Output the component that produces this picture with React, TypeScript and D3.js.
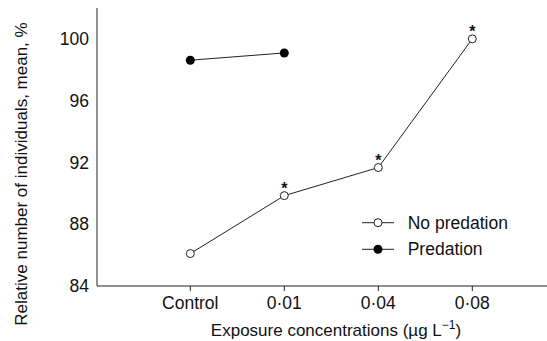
import * as d3 from "d3";

const categories = ["Control", "0·01", "0·04", "0·08"];
const noPredation = [86.1, 89.85, 91.67, 100];
const predation = [98.62, 99.09];
const significant = [false, true, true, true];
const yTicks = [84, 88, 92, 96, 100];

const width = 547;
const height = 341;
const margin = { top: 8, right: 0, bottom: 55, left: 97 };
const font = "Arial, 'Liberation Sans', sans-serif";

export default function App() {
  const x = d3
    .scalePoint<string>()
    .domain(categories)
    .range([190.3, 472.3]);
  const y = d3
    .scaleLinear()
    .domain([84, 102])
    .range([height - margin.bottom, margin.top]);

  const line = d3
    .line<number>()
    .x((_, i) => x(categories[i]) as number)
    .y((d) => y(d));

  const y0 = y(84);

  return (
    <svg
      width={width}
      height={height}
      style={{ position: "absolute", left: 0, top: 0, background: "#fff" }}
      fontFamily={font}
    >
      {/* axes */}
      <line x1={margin.left} x2={margin.left} y1={margin.top} y2={y0} stroke="#222" strokeWidth={1} />
      <line x1={margin.left} x2={width} y1={y0} y2={y0} stroke="#222" strokeWidth={1} />

      {yTicks.map((t) => (
        <text key={t} x={89} y={y(t)} dy="0.35em" textAnchor="end" fontSize={17.5} fill="#111">
          {t}
        </text>
      ))}

      {categories.map((c) => (
        <g key={c}>
          <line x1={x(c)} x2={x(c)} y1={y0} y2={y0 + 5} stroke="#222" strokeWidth={1} />
          <text x={x(c)} y={309} textAnchor="middle" fontSize={17.5} fill="#111">
            {c}
          </text>
        </g>
      ))}

      <text x={336} y={336} textAnchor="middle" fontSize={17} fill="#111">
        Exposure concentrations (µg L
        <tspan dy={-7} fontSize={12}>−1</tspan>
        <tspan dy={7}>)</tspan>
      </text>

      <text
        transform={`translate(27,${174}) rotate(-90)`}
        textAnchor="middle"
        fontSize={17}
        fill="#111"
      >
        Relative number of individuals, mean, %
      </text>

      {/* series */}
      <path d={line(noPredation) ?? ""} fill="none" stroke="#222" strokeWidth={1} />
      <path d={line(predation) ?? ""} fill="none" stroke="#222" strokeWidth={1} />

      {predation.map((v, i) => (
        <circle key={"p" + i} cx={x(categories[i])} cy={y(v)} r={4.5} fill="#000" />
      ))}
      {noPredation.map((v, i) => (
        <circle
          key={"n" + i}
          cx={x(categories[i])}
          cy={y(v)}
          r={4}
          fill="#fff"
          stroke="#222"
          strokeWidth={1}
        />
      ))}

      {noPredation.map((v, i) =>
        significant[i] ? (
          <text
            key={"s" + i}
            x={x(categories[i])}
            y={y(v) - 2}
            textAnchor="middle"
            fontSize={16}
            fontWeight="bold"
            fill="#111"
          >
            *
          </text>
        ) : null
      )}

      {/* legend */}
      <g>
        <line x1={362} x2={394} y1={222.7} y2={222.7} stroke="#222" strokeWidth={1} />
        <circle cx={378} cy={222.7} r={4} fill="#fff" stroke="#222" strokeWidth={1} />
        <text x={407.7} y={222.7} dy="0.35em" fontSize={17.5} fill="#111">
          No predation
        </text>
        <line x1={362} x2={394} y1={249.3} y2={249.3} stroke="#222" strokeWidth={1} />
        <circle cx={378} cy={249.3} r={4.5} fill="#000" />
        <text x={407.7} y={249.3} dy="0.35em" fontSize={17.5} fill="#111">
          Predation
        </text>
      </g>
    </svg>
  );
}
